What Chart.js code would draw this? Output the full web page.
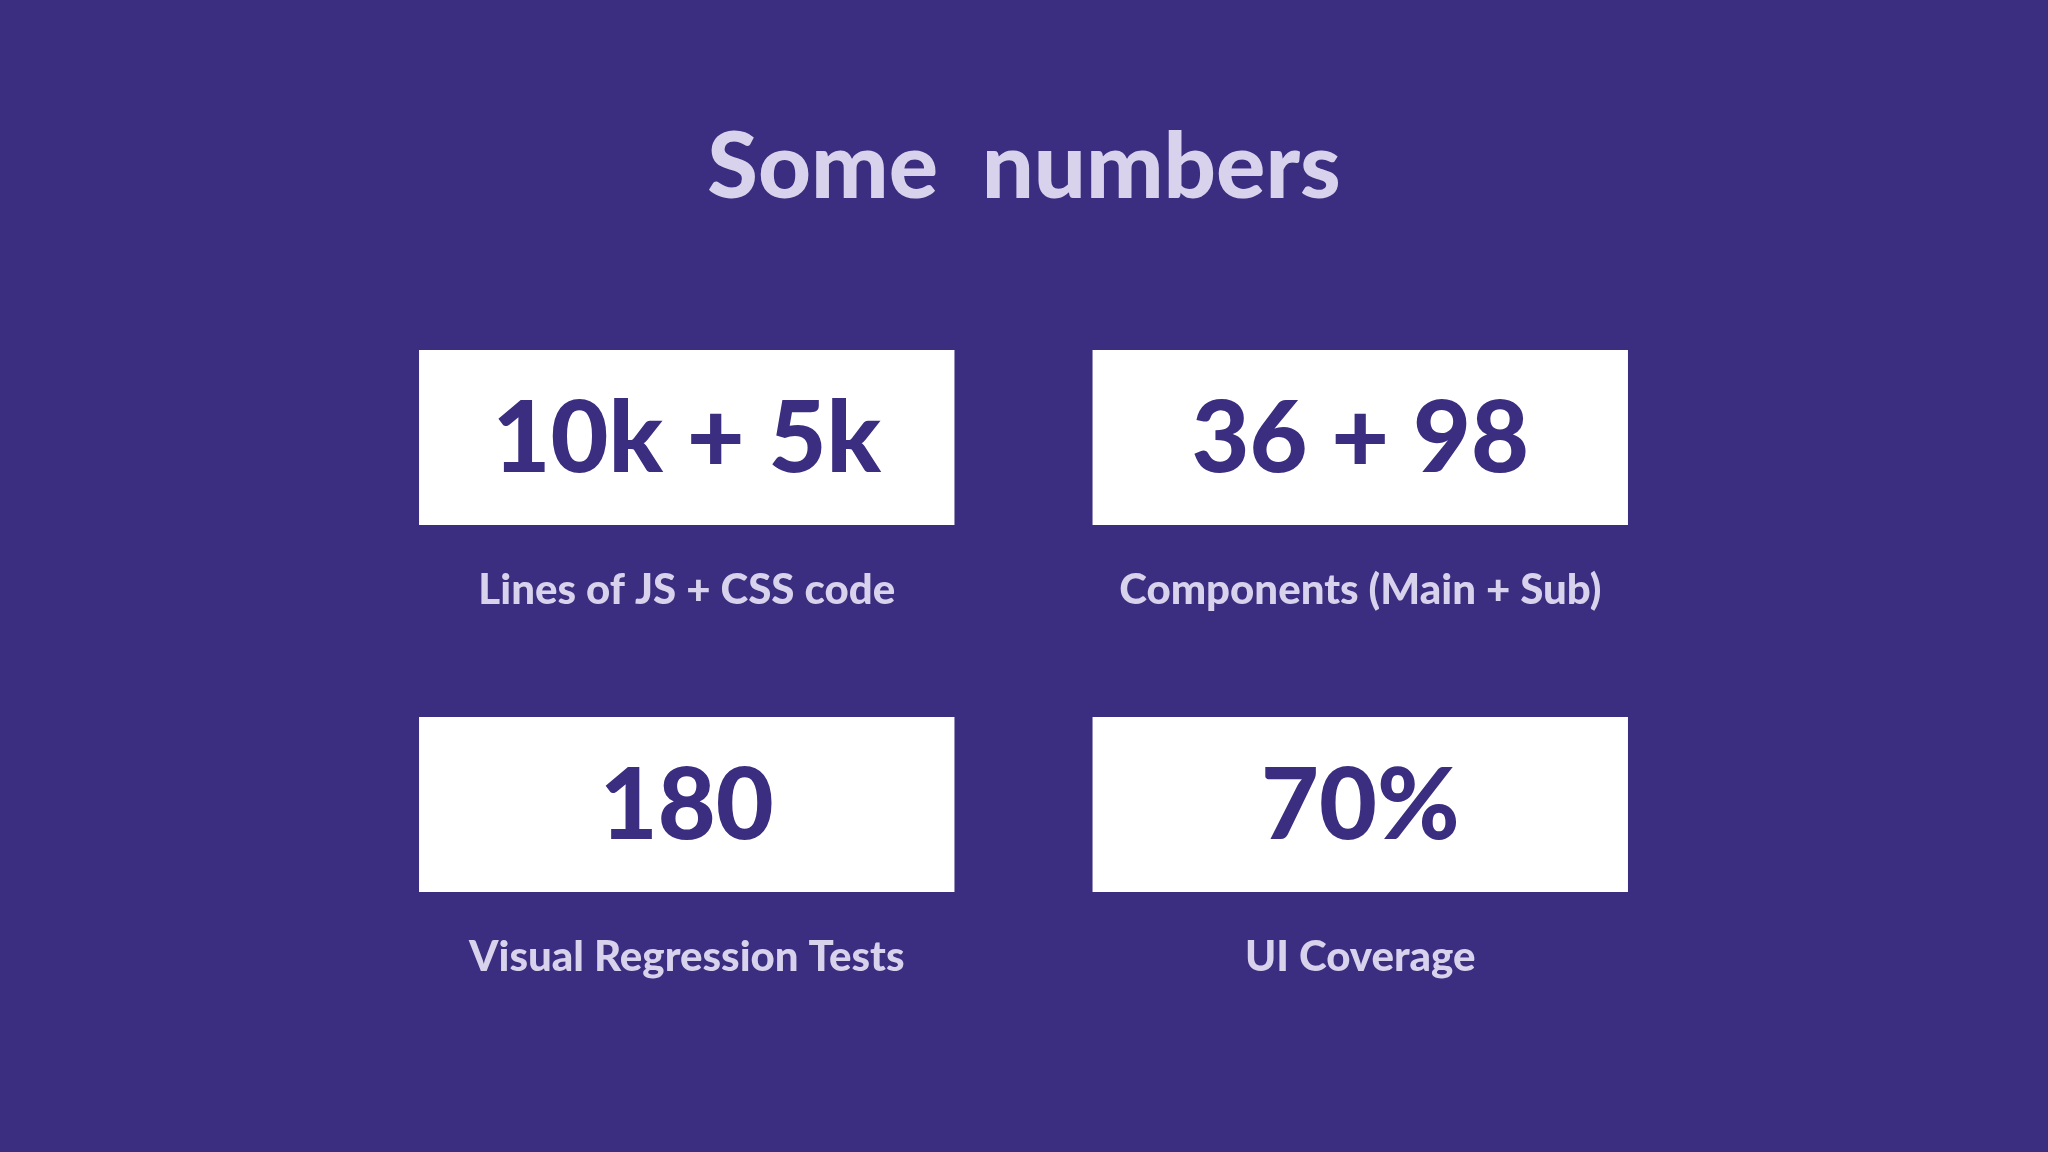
<!DOCTYPE html>
<html><head><meta charset="utf-8">
<script src="https://cdn.jsdelivr.net/npm/chart.js@4"></script>
<style>html,body{margin:0;padding:0;background:#3b2d7f;}#wrap{width:2048px;height:1152px;}</style>
</head><body><div id="wrap"><canvas id="c" width="2048" height="1152"></canvas></div>
<script>
const title = "Some  numbers";
const columns = ["left", "right"];
const topValues = ["10k + 5k", "36 + 98"];
const topLabels = ["Lines of JS + CSS code", "Components (Main + Sub)"];
const bottomValues = ["180", "70%"];
const bottomLabels = ["Visual Regression Tests", "UI Coverage"];
const topRow = [[350, 525], [350, 525]];
const bottomRow = [[717, 892], [717, 892]];

const FONT = "Lato, 'Open Sans', sans-serif";
const textPlugin = {
  id: 'texts',
  afterDatasetsDraw(chart) {
    const ctx = chart.ctx;
    ctx.save();
    ctx.textAlign = 'center';
    ctx.textBaseline = 'middle';
    ctx.fillStyle = '#d9d2ec';
    ctx.font = `900 92px ${FONT}`;
    ctx.fillText(title, chart.width / 2, 168);
    const sets = [[topValues, topLabels], [bottomValues, bottomLabels]];
    sets.forEach((s, di) => {
      chart.getDatasetMeta(di).data.forEach((bar, i) => {
        const top = Math.min(bar.y, bar.base), bot = Math.max(bar.y, bar.base);
        ctx.fillStyle = '#3b2d7f';
        ctx.font = `900 100px ${FONT}`;
        ctx.fillText(s[0][i], bar.x, (top + bot) / 2 + 2);
        ctx.fillStyle = '#d9d2ec';
        ctx.font = `900 42px ${FONT}`;
        ctx.fillText(s[1][i], bar.x, bot + 65);
      });
    });
    ctx.restore();
  }
};

new Chart(document.getElementById('c'), {
  type: 'bar',
  data: {
    labels: columns,
    datasets: [
      { data: topRow, backgroundColor: '#ffffff', grouped: false, borderSkipped: false },
      { data: bottomRow, backgroundColor: '#ffffff', grouped: false, borderSkipped: false }
    ]
  },
  options: {
    responsive: false, animation: false,
    devicePixelRatio: 1,
    layout: { padding: { left: 350, right: 351, top: 0, bottom: 0 } },
    datasets: { bar: { barPercentage: 0.795, categoryPercentage: 1 } },
    scales: {
      x: { display: false },
      y: { display: false, reverse: true, min: 0, max: 1152 }
    },
    plugins: { legend: { display: false }, tooltip: { enabled: false } }
  },
  plugins: [textPlugin]
});
</script></body></html>
